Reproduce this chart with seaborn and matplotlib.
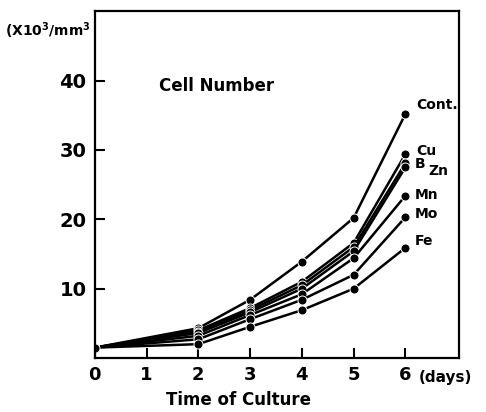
import matplotlib
matplotlib.use("Agg")
import matplotlib.pyplot as plt
import pandas as pd
import seaborn as sns

days = [0, 2, 3, 4, 5, 6]
cont = [1.5, 4.3, 8.4, 13.9, 20.2, 35.2]
cu = [1.5, 4.0, 7.2, 11.0, 16.6, 29.4]
b = [1.5, 3.8, 6.9, 10.5, 16.0, 28.1]
zn = [1.5, 3.6, 6.6, 10.0, 15.4, 27.5]
mn = [1.5, 3.2, 6.2, 9.2, 14.4, 23.4]
mo = [1.5, 2.7, 5.6, 8.4, 12.0, 20.3]
fe = [1.5, 2.0, 4.5, 6.9, 10.0, 15.9]
names = ["Cont.", "Cu", "B", "Zn", "Mn", "Mo", "Fe"]
series = [cont, cu, b, zn, mn, mo, fe]

x_ticks = [0, 1, 2, 3, 4, 5, 6]
y_ticks = [10, 20, 30, 40]

rows = []
for name, vals in zip(names, series):
    for d, v in zip(days, vals):
        rows.append({"day": d, "cells": v, "element": name})
df = pd.DataFrame(rows)

sns.set_style("ticks")
plt.rcParams["font.family"] = ["DejaVu Sans"]
plt.rcParams["font.weight"] = "bold"
plt.rcParams["text.color"] = "black"

fig = plt.figure(figsize=(4.86, 4.12), dpi=100)
ax = fig.add_axes([0.195, 0.131, 0.749, 0.842])

sns.lineplot(data=df, x="day", y="cells", hue="element", hue_order=names,
             palette={n: "black" for n in names}, marker="o", markersize=6.5,
             markeredgecolor="white", markeredgewidth=0.7, linewidth=1.8,
             legend=False, ax=ax)

ax.set_xlim(0, 7.03)
ax.set_ylim(0, 50)
ax.set_xticks(x_ticks)
ax.set_yticks(y_ticks)
ax.set_xticklabels([str(t) for t in x_ticks], fontsize=13)
ax.set_yticklabels([str(t) for t in y_ticks], fontsize=14)
ax.tick_params(direction="in", length=7, width=1.5, colors="black",
               labelcolor="black", pad=6)
for s in ax.spines.values():
    s.set_linewidth(1.6)
    s.set_color("black")
ax.set_xlabel("")
ax.set_ylabel("")

# series labels at the last point
label_pos = {"Cont.": (6.2, 36.5), "Cu": (6.2, 29.9), "B": (6.18, 27.9),
             "Zn": (6.45, 26.9), "Mn": (6.18, 23.5), "Mo": (6.18, 20.8),
             "Fe": (6.18, 16.8)}
for n in names:
    x, y = label_pos[n]
    ax.text(x, y, n, fontsize=10, fontweight="bold", va="center", ha="left")

ax.text(1.25, 39.2, "Cell Number", fontsize=12, fontweight="bold",
        va="center", ha="left")
fig.text(0.01, 0.925, "(X10$^3$/mm$^3$", fontsize=10, fontweight="bold",
         ha="left", va="center")
ax.text(6.25, -2.8, "(days)", fontsize=11, fontweight="bold",
        ha="left", va="center")
fig.text(0.49, 0.03, "Time of Culture", fontsize=12, fontweight="bold",
         ha="center", va="center")

fig.savefig("out.png", dpi=100)
